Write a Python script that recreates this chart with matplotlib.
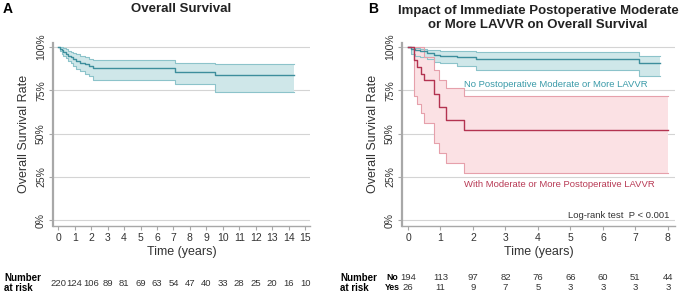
import numpy as np
import matplotlib
matplotlib.use('Agg')
import matplotlib.pyplot as plt

plt.rcParams['font.family'] = ['Liberation Sans', 'DejaVu Sans']

# Panel A: overall survival (Kaplan-Meier step points, %)
a_time = [0, 0.1, 0.2, 0.3, 0.45, 0.6, 0.75, 0.9, 1.1, 1.35, 1.6, 1.85, 2.13, 7.1, 9.5, 14.3]
a_surv = [100, 99, 98, 97, 96, 95, 94, 93, 92, 91, 90, 89, 87.7, 85.8, 83.8, 83.8]
a_upper = [100, 100, 99.8, 99.3, 98.6, 97.9, 97.2, 96.5, 95.8, 95, 94.2, 93.3, 92.3, 91, 90, 90]
a_lower = [100, 97.5, 96, 95, 93.5, 92, 90.5, 89, 87.5, 86, 84.5, 83, 81, 78.6, 74.2, 74.2]
a_ticks = list(range(0, 16))
a_risk = [220, 124, 106, 89, 81, 69, 63, 54, 47, 40, 33, 28, 25, 20, 16, 10]

# Panel B: no postoperative moderate or more LAVVR
no_time = [0, 0.1, 0.2, 0.37, 0.6, 0.8, 1.0, 1.5, 2.1, 7.1, 7.75]
no_surv = [100, 99, 98, 97.5, 96.5, 95.5, 95, 94, 93, 91, 91]
no_upper = [100, 100, 99.5, 99, 98.5, 98, 97.8, 97.5, 97.2, 95, 95]
no_lower = [100, 96, 95, 94, 93, 91.5, 90.5, 89, 86.5, 83.3, 83.3]

# Panel B: with moderate or more postoperative LAVVR
yes_time = [0, 0.18, 0.29, 0.4, 0.5, 0.8, 0.95, 1.16, 1.72, 8.0]
yes_surv = [100, 92.3, 88.5, 84.6, 80.8, 73.1, 65.4, 57.7, 51.9, 51.9]
yes_upper = [100, 100, 100, 100, 94, 87, 81, 76.5, 71.7, 71.7]
yes_lower = [100, 72, 67, 62, 56, 44.4, 38.6, 32.9, 27.5, 27.5]

b_ticks = list(range(0, 9))
b_risk_no = [194, 113, 97, 82, 76, 66, 60, 51, 44]
b_risk_yes = [26, 11, 9, 7, 5, 3, 3, 3, 3]

teal = '#3d8e9c'
teal_fill = '#cfe7e9'
teal_edge = '#8cc3ca'
red = '#b33350'
red_fill = '#fbe1e4'
red_edge = '#e6a0ab'
grid_c = '#d4d4d4'
spine_c = '#a8a8a8'
txt_c = '#333333'

fig = plt.figure(figsize=(6.8, 2.98), dpi=100)
W, H = 680, 298


def make_axes(left, right, xlim):
    ax = fig.add_axes([left / W, 1 - 226 / H, (right - left) / W, (226 - 42.7) / H])
    ax.set_ylim(-3.3, 102.5)
    ax.set_xlim(*xlim)
    for s in ['top', 'right']:
        ax.spines[s].set_visible(False)
    ax.spines['left'].set_color(spine_c)
    ax.spines['left'].set_linewidth(1.6)
    ax.spines['bottom'].set_color(spine_c)
    ax.spines['bottom'].set_linewidth(1.0)
    ax.set_yticks([0, 25, 50, 75, 100])
    ax.set_yticklabels(['0%', '25%', '50%', '75%', '100%'], rotation=90, va='center')
    for y in [0, 25, 50, 75, 100]:
        ax.axhline(y, color=grid_c, lw=0.8, zorder=0)
    ax.tick_params(axis='both', colors=spine_c, labelcolor=txt_c, labelsize=7.5,
                   length=3, width=0.8, pad=2)
    ax.set_ylabel('Overall Survival Rate', fontsize=9, color=txt_c, labelpad=4)
    ax.set_xlabel('Time (years)', fontsize=9, color=txt_c, labelpad=2)
    return ax


def km(ax, t, s, lo, hi, line_c, fill_c, edge_c):
    ax.fill_between(t, lo, hi, step='post', color=fill_c, lw=0, zorder=1)
    ax.step(t, hi, where='post', color=edge_c, lw=0.8, zorder=2)
    ax.step(t, lo, where='post', color=edge_c, lw=0.8, zorder=2)
    ax.step(t, s, where='post', color=line_c, lw=1.0, zorder=3)


# ---- Panel A
axA = make_axes(53, 310, (-0.32, 15.3))
km(axA, a_time, a_surv, a_lower, a_upper, teal, teal_fill, teal_edge)
axA.set_xticks(a_ticks)
fig.text(3 / W, 1 - 9 / H, 'A', fontsize=10, fontweight='bold', va='center')
fig.text(181 / W, 1 - 8.5 / H, 'Overall Survival', fontsize=9.5, fontweight='bold',
         ha='center', va='center', color='#222222')
fig.text(4 / W, 1 - 278 / H, 'Number', fontsize=7, fontweight='bold', va='center')
fig.text(4 / W, 1 - 288 / H, 'at risk', fontsize=7, fontweight='bold', va='center')
for x, n in zip(a_ticks, a_risk):
    xf = axA.transData.transform((x, 0))[0] / W
    fig.text(xf, 1 - 284 / H, str(n), fontsize=6.8, ha='center', va='center', color=txt_c)

# ---- Panel B
axB = make_axes(402, 675, (-0.185, 8.22))
km(axB, no_time, no_surv, no_lower, no_upper, teal, teal_fill, teal_edge)
km(axB, yes_time, yes_surv, yes_lower, yes_upper, red, red_fill, red_edge)
axB.set_xticks(b_ticks)
axB.text(4.55, 78.5, 'No Postoperative Moderate or More LAVVR', fontsize=6.8,
         color='#3a9aa8', ha='center', va='center')
axB.text(4.65, 20.5, 'With Moderate or More Postoperative LAVVR', fontsize=6.8,
         color='#b83a55', ha='center', va='center')
axB.text(8.05, 3, 'Log-rank test  P < 0.001', fontsize=6.8, color=txt_c,
         ha='right', va='center')
fig.text(368 / W, 1 - 9 / H, 'B', fontsize=10, fontweight='bold', va='center')
fig.text(538 / W, 1 - 18 / H, 'Impact of Immediate Postoperative Moderate\nor More LAVVR on Overall Survival',
         fontsize=9.5, fontweight='bold', ha='center', va='center', color='#222222',
         linespacing=1.15)
fig.text(340 / W, 1 - 278 / H, 'Number', fontsize=7, fontweight='bold', va='center')
fig.text(340 / W, 1 - 288 / H, 'at risk', fontsize=7, fontweight='bold', va='center')
fig.text(386 / W, 1 - 278 / H, 'No', fontsize=6.3, fontweight='bold', va='center')
fig.text(385 / W, 1 - 288 / H, 'Yes', fontsize=6.3, fontweight='bold', va='center')
for x, n1, n2 in zip(b_ticks, b_risk_no, b_risk_yes):
    xf = axB.transData.transform((x, 0))[0] / W
    fig.text(xf, 1 - 278 / H, str(n1), fontsize=6.8, ha='center', va='center', color=txt_c)
    fig.text(xf, 1 - 288 / H, str(n2), fontsize=6.8, ha='center', va='center', color=txt_c)

fig.savefig('out.png', dpi=100)
